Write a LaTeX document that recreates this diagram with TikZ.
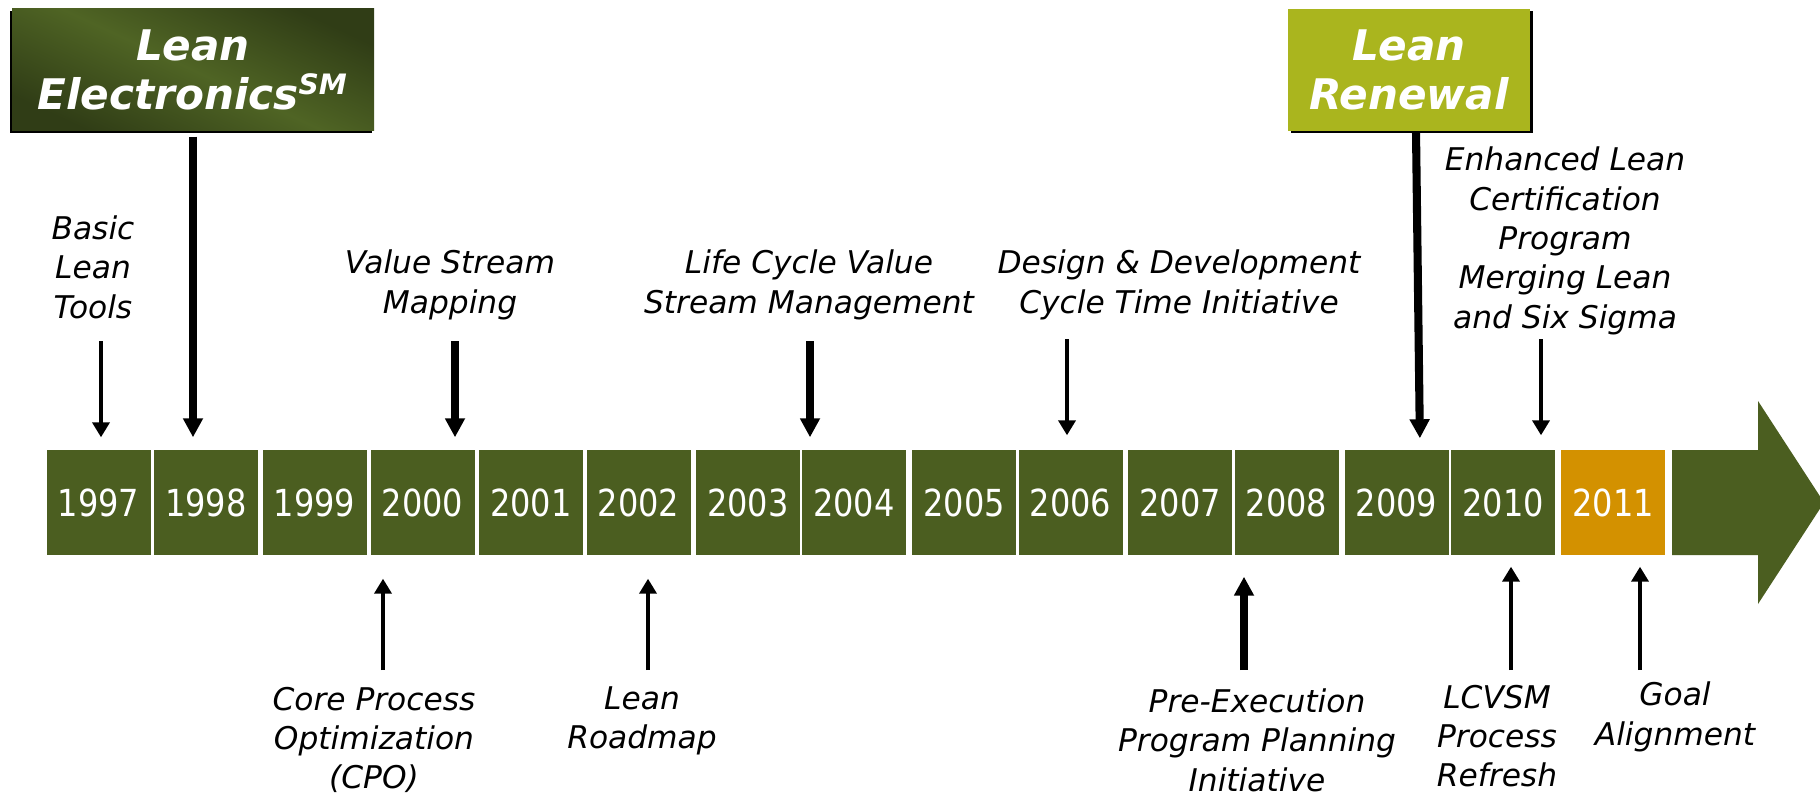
\documentclass[tikz,border=0pt]{standalone}
\usepackage{fontspec}
\setmainfont{DejaVu Sans}
\newfontfamily\yrfont[FakeStretch=0.86]{DejaVu Sans}
\usetikzlibrary{arrows.meta,shadows}
\definecolor{olivebar}{HTML}{4B5E20}
\definecolor{olivedark}{HTML}{303D16}
\definecolor{olivelite}{HTML}{4F6424}
\definecolor{limebox}{HTML}{AAB51E}
\definecolor{ambernow}{HTML}{D39100}
\tikzset{
  yr_box/.style = {rectangle, fill=olivebar, text=white, inner sep=0pt,
    minimum width=10.4mm, minimum height=10.5mm,
    font=\yrfont\fontsize{10.6}{12}\selectfont},% annee, vert
  yr_now/.style = {yr_box, fill=ambernow},% annee en cours, orange
  evt_txt/.style = {align=center, inner sep=0pt,
    font=\itshape\fontsize{8.9}{11.2}\selectfont},% texte d'un jalon
  tag_box/.style = {rectangle, inner sep=0pt, align=center, text=white,
    font=\bfseries\itshape\fontsize{12}{13.9}\selectfont, minimum height=12.2mm},% etiquette de phase
  thin_arr/.style = {-{Triangle[width=1.7mm,length=1.5mm]}, line width=1.4pt},% fleche fine
  thick_arr/.style = {-{Triangle[width=1.9mm,length=1.9mm]}, line width=2.3pt}% fleche epaisse
}
\begin{document}
\begin{tikzpicture}[x=0.1mm, y=-0.1mm]
\clip (0,0) rectangle (1820,799);
% frise des annees
\foreach \yr/\cx in {1997/98.5, 1998/206, 1999/314.5, 2000/422.5, 2001/531,
    2002/638.5, 2003/748, 2004/854, 2005/964, 2006/1070.5, 2007/1180,
    2008/1286.5, 2009/1396.5, 2010/1503}
  \node [yr_box] (y\yr) at (\cx,502.5) {\yr};
\node [yr_now] (y2011) at (1613,502.5) {2011};
\fill [olivebar] (1672,450) -- (1758,450) -- (1758,401) -- (1824,502.5)
  -- (1758,604) -- (1758,555) -- (1672,555) -- cycle;

% phases
\node [tag_box, top color=olivedark, bottom color=olivedark, middle color=olivelite,
  shading angle=-25, minimum width=36.2mm,
  drop shadow={shadow xshift=-0.25mm, shadow yshift=-0.25mm, opacity=1, fill=black}]
  (tag_el) at (193,70) {Lean\\Electronics\textsuperscript{SM}};
\node [tag_box, fill=limebox, minimum width=24.2mm,
  drop shadow={shadow xshift=0.25mm, shadow yshift=-0.25mm, opacity=1, fill=black}]
  (tag_lr) at (1409,70) {Lean\\Renewal};

% jalons au-dessus
\node [evt_txt] (t_basic) at (93,267) {Basic\\Lean\\Tools};
\node [evt_txt] (t_vsm) at (450,285) {Value Stream\\Mapping};
\node [evt_txt] (t_lcvsm) at (809,285) {Life Cycle Value\\Stream Management};
\node [evt_txt] (t_ddct) at (1179,285) {Design \& Development\\Cycle Time Initiative};
\node [evt_txt] (t_elc) at (1565,241) {Enhanced Lean\\Certification\\Program\\Merging Lean\\and Six Sigma};

% jalons au-dessous
\node [evt_txt] (b_cpo) at (374,740) {Core Process\\Optimization\\(CPO)};
\node [evt_txt] (b_road) at (642,721) {Lean\\Roadmap};
\node [evt_txt] (b_pepp) at (1257,740) {Pre-Execution\\Program Planning\\Initiative};
\node [evt_txt] (b_refresh) at (1497,736) {LCVSM\\Process\\Refresh};
\node [evt_txt] (b_goal) at (1675,717) {Goal\\Alignment};

% departs des fleches
\coordinate (c_basic) at (101,341);
\coordinate (c_vsm) at (455,341);
\coordinate (c_lcvsm) at (810,341);
\coordinate (c_ddct) at (1067,339);
\coordinate (c_elc) at (1541,339);
\coordinate (c_cpo) at (383,670);
\coordinate (c_road) at (648,670);
\coordinate (c_pepp) at (1244,670);
\coordinate (c_refresh) at (1511,670);
\coordinate (c_goal) at (1640,670);

\draw [thick_arr, shorten <=0.5mm, shorten >=1.2mm] (tag_el.south) -- (tag_el.south |- y1998.north);
\draw [thick_arr, shorten >=1.1mm] ([xshift=0.7mm]tag_lr.south) -- ([xshift=2.35mm]y2009.north);
\draw [thin_arr, shorten >=1.2mm] (c_basic) -- (c_basic |- y1997.north);
\draw [thick_arr, shorten >=1.2mm] (c_vsm) -- (c_vsm |- y2000.north);
\draw [thick_arr, shorten >=1.2mm] (c_lcvsm) -- (c_lcvsm |- y2004.north);
\draw [thin_arr, shorten >=1.4mm] (c_ddct) -- (c_ddct |- y2006.north);
\draw [thin_arr, shorten >=1.4mm] (c_elc) -- (c_elc |- y2010.north);

\draw [thin_arr, shorten >=2.3mm] (c_cpo) -- (c_cpo |- y2000.south);
\draw [thin_arr, shorten >=2.3mm] (c_road) -- (c_road |- y2002.south);
\draw [thick_arr, shorten >=2.1mm] (c_pepp) -- (c_pepp |- y2008.south);
\draw [thin_arr, shorten >=1.1mm] (c_refresh) -- (c_refresh |- y2010.south);
\draw [thin_arr, shorten >=1.1mm] (c_goal) -- (c_goal |- y2011.south);
\end{tikzpicture}
\end{document}
